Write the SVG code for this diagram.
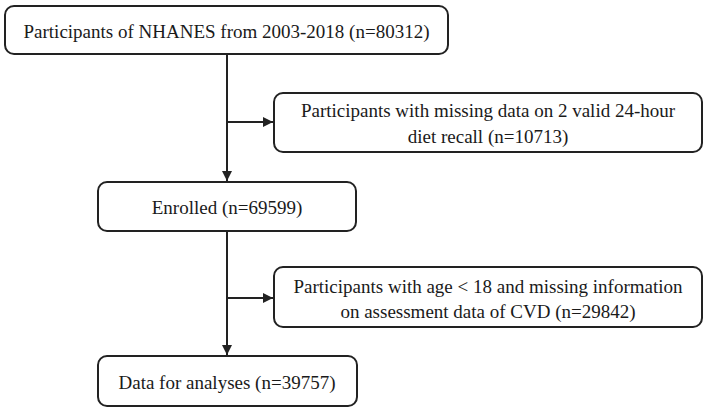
<svg xmlns="http://www.w3.org/2000/svg" width="708" height="413" viewBox="0 0 708 413">
<defs>
<style>
.box{fill:#fff;stroke:#222;stroke-width:2}
.t{font-family:"Liberation Serif","Times New Roman",serif;font-size:19px;fill:#1a1a1a;text-anchor:middle;dominant-baseline:central}
.c{stroke:#222;stroke-width:2;fill:none}
</style>
<marker id="ah" viewBox="0 0 10 10" refX="10" refY="5" markerWidth="5" markerHeight="5" markerUnits="strokeWidth" orient="auto">
<path d="M0,0 L10,5 L0,10 z" fill="#222"/>
</marker>
</defs>
<rect width="708" height="413" fill="#fff"/>
<g id="connectors">
<line class="c" x1="227" y1="54" x2="227" y2="181" marker-end="url(#ah)"/>
<line class="c" x1="227" y1="122" x2="273" y2="122" marker-end="url(#ah)"/>
<line class="c" x1="227" y1="231" x2="227" y2="355" marker-end="url(#ah)"/>
<line class="c" x1="227" y1="298" x2="273" y2="298" marker-end="url(#ah)"/>
</g>
<g id="n1">
<rect class="box" x="5" y="6" width="443" height="48" rx="9"/>
<text class="t" x="226.5" y="31">Participants of NHANES from 2003-2018 (n=80312)</text>
</g>
<g id="n2">
<rect class="box" x="274" y="93" width="428" height="59" rx="9"/>
<text class="t" x="488" y="110">Participants with missing data on 2 valid 24-hour</text>
<text class="t" x="488" y="136">diet recall (n=10713)</text>
</g>
<g id="n3">
<rect class="box" x="98" y="182" width="258" height="49" rx="9"/>
<text class="t" x="227" y="207">Enrolled (n=69599)</text>
</g>
<g id="n4">
<rect class="box" x="274" y="267" width="428" height="60" rx="9"/>
<text class="t" x="488" y="286">Participants with age &lt; 18 and missing information</text>
<text class="t" x="488" y="311">on assessment data of CVD (n=29842)</text>
</g>
<g id="n5">
<rect class="box" x="98" y="356" width="259" height="50" rx="9"/>
<text class="t" x="227" y="382">Data for analyses (n=39757)</text>
</g>
</svg>
